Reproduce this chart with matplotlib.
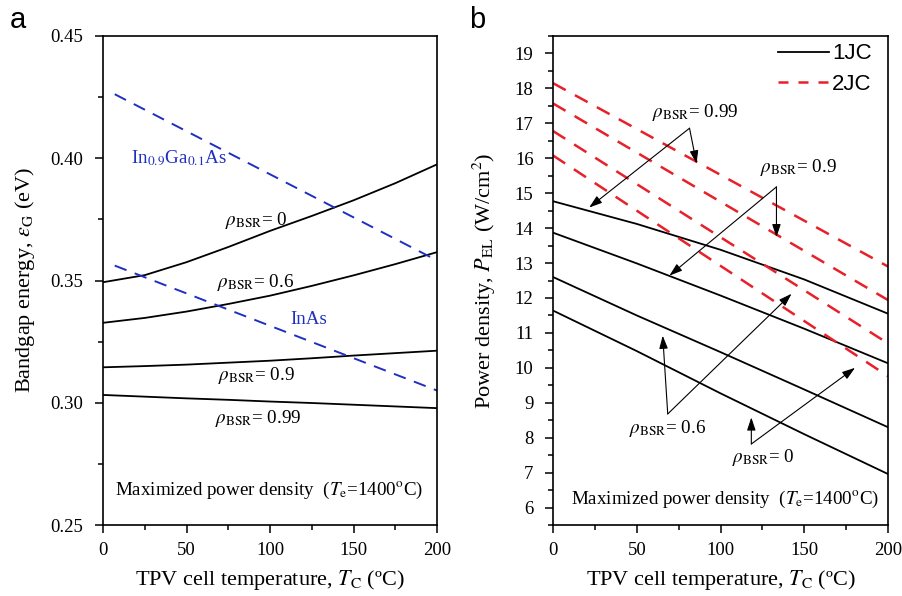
import numpy as np
import matplotlib
matplotlib.use("Agg")
import matplotlib.pyplot as plt
from matplotlib.ticker import MultipleLocator, FormatStrFormatter

plt.rcParams['font.family'] = ['Liberation Serif', 'DejaVu Serif']
plt.rcParams['mathtext.fontset'] = 'stix'

# ---- panel a: bandgap energy vs cell temperature ----
t_a = [0, 25, 50, 75, 100, 125, 150, 175, 200]
eg_rho0 = [0.3493, 0.3522, 0.3575, 0.3637, 0.3703, 0.3764, 0.3828, 0.3898, 0.3975]
eg_rho06 = [0.3327, 0.3347, 0.3373, 0.3404, 0.3438, 0.3478, 0.3521, 0.3567, 0.3616]
eg_rho09 = [0.3145, 0.3150, 0.3156, 0.3164, 0.3172, 0.3182, 0.3193, 0.3203, 0.3213]
eg_rho099 = [0.3032, 0.3025, 0.3018, 0.3012, 0.3005, 0.2999, 0.2992, 0.2985, 0.2978]

t_mat = [7, 200]
eg_ingaas = [0.4262, 0.3582]
eg_inas = [0.3561, 0.3050]

# ---- panel b: power density vs cell temperature ----
t_b = [0, 50, 100, 150, 200]
p1_rho099 = [14.77, 14.12, 13.38, 12.53, 11.55]
p1_rho09 = [13.87, 12.99, 12.07, 11.12, 10.13]
p1_rho06 = [12.60, 11.50, 10.45, 9.38, 8.30]
p1_rho0 = [11.64, 10.48, 9.27, 8.10, 6.96]

t_b2 = [0, 200]
p2_rho099 = [18.15, 12.90]
p2_rho09 = [17.57, 11.94]
p2_rho06 = [16.78, 10.70]
p2_rho0 = [16.08, 9.76]

# annotation arrows: origin -> targets (data coords)
arrows_b = {
    '0.99': ((81.5, 16.86), [(21.6, 14.59), (85.7, 15.85)]),
    '0.9': ((133.4, 15.18), [(69.5, 12.64), (133.4, 13.74)]),
    '0.6': ((68.5, 8.68), [(65.5, 10.92), (142.4, 12.12)]),
    '0': ((118.4, 7.82), [(118.4, 8.58), (180.3, 10.0)]),
}

fig = plt.figure(figsize=(9.03, 5.96), dpi=100)
ax1 = fig.add_axes([0.1141, 0.1191, 0.3699, 0.8205])
ax2 = fig.add_axes([0.6124, 0.1191, 0.3710, 0.8205])

blue = '#1f30c0'
red = '#e8202a'
lw = 1.3
fs_ann = 13.7
fs_lab = 16
red_dash = (5.8, 4.2)

for y in [eg_rho0, eg_rho06, eg_rho09, eg_rho099]:
    ax1.plot(t_a, y, color='black', lw=lw)
ax1.plot(t_mat, eg_ingaas, color=blue, lw=1.4, dashes=(6.5, 4.5))
ax1.plot(t_mat, eg_inas, color=blue, lw=1.4, dashes=(6.5, 4.5))

ax1.set_xlim(0, 200)
ax1.set_ylim(0.25, 0.45)
ax1.xaxis.set_major_locator(MultipleLocator(50))
ax1.xaxis.set_minor_locator(MultipleLocator(25))
ax1.yaxis.set_major_locator(MultipleLocator(0.05))
ax1.yaxis.set_minor_locator(MultipleLocator(0.025))
ax1.yaxis.set_major_formatter(FormatStrFormatter('%.2f'))

ax1.text(17, 0.400, r'In$_{0.9}$Ga$_{0.1}$As', color=blue, fontsize=fs_ann, va='center')
ax1.text(112, 0.334, 'InAs', color=blue, fontsize=fs_ann, va='center')
ax1.text(73, 0.3746, r'$\rho_{\rm BSR}$= 0', fontsize=fs_ann, va='center')
ax1.text(68, 0.3492, r'$\rho_{\rm BSR}$= 0.6', fontsize=fs_ann, va='center')
ax1.text(69, 0.3110, r'$\rho_{\rm BSR}$= 0.9', fontsize=fs_ann, va='center')
ax1.text(67, 0.2934, r'$\rho_{\rm BSR}$= 0.99', fontsize=fs_ann, va='center')
ax1.text(7, 0.264, r'Maximized power density  ($T_{\rm e}$=1400$^{\rm o}$C)',
         fontsize=fs_ann, va='center')
ax1.set_xlabel(r'TPV cell temperature, $T_{\rm C}$ (ºC)', fontsize=fs_lab, labelpad=6)
ax1.set_ylabel(r'Bandgap energy, $\varepsilon_{\rm G}$ (eV)', fontsize=fs_lab, labelpad=10)

# panel b
for y in [p1_rho099, p1_rho09, p1_rho06, p1_rho0]:
    ax2.plot(t_b, y, color='black', lw=lw)
for y in [p2_rho099, p2_rho09, p2_rho06, p2_rho0]:
    ax2.plot(t_b2, y, color=red, lw=1.8, dashes=red_dash)

ax2.plot([], [], color='black', lw=lw, label='1JC')
ax2.plot([], [], color=red, lw=1.8, dashes=(4, 4), label='2JC')
ax2.legend(loc='upper right', bbox_to_anchor=(0.952, 0.985), frameon=False,
           prop={'family': 'Liberation Sans', 'size': 16},
           handlelength=2.3, handletextpad=0.15, labelspacing=0.43,
           borderaxespad=0, borderpad=0)

for key, (orig, targets) in arrows_b.items():
    for tgt in targets:
        ax2.annotate('', xy=tgt, xytext=orig,
                     arrowprops=dict(arrowstyle='-|>,head_length=0.6,head_width=0.2',
                                     color='black', lw=0.8,
                                     mutation_scale=13, shrinkA=0, shrinkB=0))

ax2.text(59.3, 17.32, r'$\rho_{\rm BSR}$= 0.99', fontsize=fs_ann, va='center')
ax2.text(123.4, 15.74, r'$\rho_{\rm BSR}$= 0.9', fontsize=fs_ann, va='center')
ax2.text(45.5, 8.26, r'$\rho_{\rm BSR}$= 0.6', fontsize=fs_ann, va='center')
ax2.text(106.6, 7.43, r'$\rho_{\rm BSR}$= 0', fontsize=fs_ann, va='center')
ax2.text(10.6, 6.24, r'Maximized power density  ($T_{\rm e}$=1400$^{\rm o}$C)',
         fontsize=fs_ann, va='center')

ax2.set_xlim(0, 200)
ax2.set_ylim(5.5, 19.5)
ax2.xaxis.set_major_locator(MultipleLocator(50))
ax2.xaxis.set_minor_locator(MultipleLocator(25))
ax2.yaxis.set_major_locator(MultipleLocator(1))
ax2.yaxis.set_minor_locator(MultipleLocator(0.5))
ax2.set_xlabel(r'TPV cell temperature, $T_{\rm C}$ (ºC)', fontsize=fs_lab, labelpad=6)
ax2.set_ylabel(r'Power density, $P_{\rm EL}$ (W/cm$^2$)', fontsize=fs_lab, labelpad=12)

for ax in (ax1, ax2):
    for s in ax.spines.values():
        s.set_linewidth(1.2)
    ax.tick_params(which='both', direction='out', top=False, right=False,
                   labelsize=13.5, width=1.1)
    ax.tick_params(which='major', length=6)
    ax.tick_params(which='minor', length=3.5)
    ax.tick_params(axis='x', which='major', pad=6.5)
    ax.tick_params(axis='y', which='major', pad=8)

fig.text(10 / 903, 1 - 20 / 596, 'a', family='Liberation Sans', fontsize=21, va='center')
fig.text(469 / 903, 1 - 20 / 596, 'b', family='Liberation Sans', fontsize=21, va='center')

fig.savefig('out.png', dpi=100)
